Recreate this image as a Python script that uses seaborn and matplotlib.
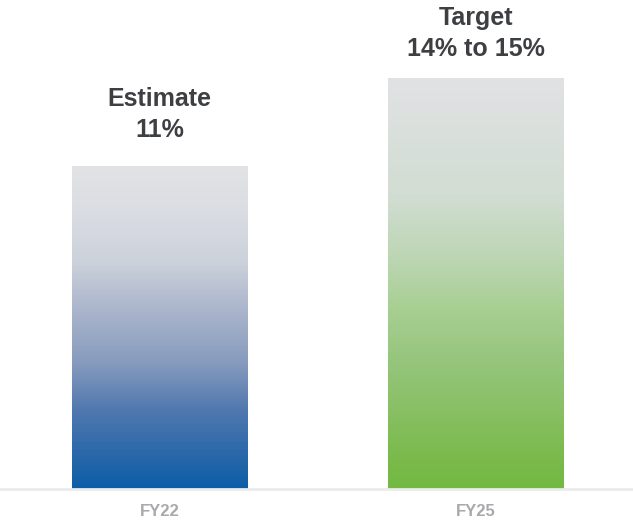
import numpy as np
import pandas as pd
import matplotlib
matplotlib.use("Agg")
import matplotlib.pyplot as plt
import seaborn as sns
from matplotlib.colors import LinearSegmentedColormap

# data
periods = ["FY22", "FY25"]
values = [11, 14]
labels = ["Estimate\n11%", "Target\n14% to 15%"]

# gradient stops, bottom -> top
blue_stops = [(0.0, "#0b5ea8"), (0.09, "#2666a9"), (0.24, "#4f78af"), (0.40, "#8a9dbf"),
              (0.55, "#a9b5cb"), (0.70, "#ccd1db"), (0.86, "#dadde2"), (1.0, "#e2e3e5")]
green_stops = [(0.0, "#72b944"), (0.07, "#7aba4b"), (0.31, "#96c57c"), (0.44, "#a8cf93"),
               (0.56, "#bcd6b3"), (0.72, "#d2ddd3"), (1.0, "#e1e2e4")]
label_offsets = [17, 12]  # points above bar top


def main():
    sns.set_style("white")
    plt.rcParams["font.family"] = ["Liberation Sans", "DejaVu Sans"]

    df = pd.DataFrame({"period": periods, "value": values})

    fig = plt.figure(figsize=(6.33, 5.21), dpi=100)
    ax = fig.add_axes([0, 32 / 521, 1, 489 / 521])

    sns.barplot(data=df, x="period", y="value", color="#e2e3e5", width=0.556, ax=ax)

    grad = np.linspace(0, 1, 256).reshape(-1, 1)
    cmaps = [LinearSegmentedColormap.from_list("blue_grad", blue_stops),
             LinearSegmentedColormap.from_list("green_grad", green_stops)]
    for patch, cmap, lab, off in zip(ax.patches, cmaps, labels, label_offsets):
        x0, w, h = patch.get_x(), patch.get_width(), patch.get_height()
        patch.set_edgecolor("none")
        im = ax.imshow(grad, extent=[x0, x0 + w, 0, h], origin="lower", aspect="auto",
                       cmap=cmap, zorder=patch.get_zorder() + 0.1)
        im.set_clip_path(patch)
        ax.annotate(lab, (x0 + w / 2, h), xytext=(0, off), textcoords="offset points",
                    ha="center", va="bottom", fontsize=18, fontweight="bold",
                    color="#3d3f42", linespacing=1.4)

    ax.set_xlim(-0.504, 1.496)
    ax.set_ylim(0, 16.65)
    ax.set_xlabel("")
    ax.set_ylabel("")
    ax.set_yticks([])
    ax.tick_params(axis="x", length=0, pad=11, labelsize=12, labelcolor="#a7a9ac")
    for t in ax.get_xticklabels():
        t.set_fontweight("bold")

    sns.despine(ax=ax, left=True, right=True, top=True)
    ax.spines["bottom"].set_color("#ebebeb")
    ax.spines["bottom"].set_linewidth(2)

    fig.savefig("out.png", dpi=100)
    plt.close(fig)


if __name__ == "__main__":
    main()
